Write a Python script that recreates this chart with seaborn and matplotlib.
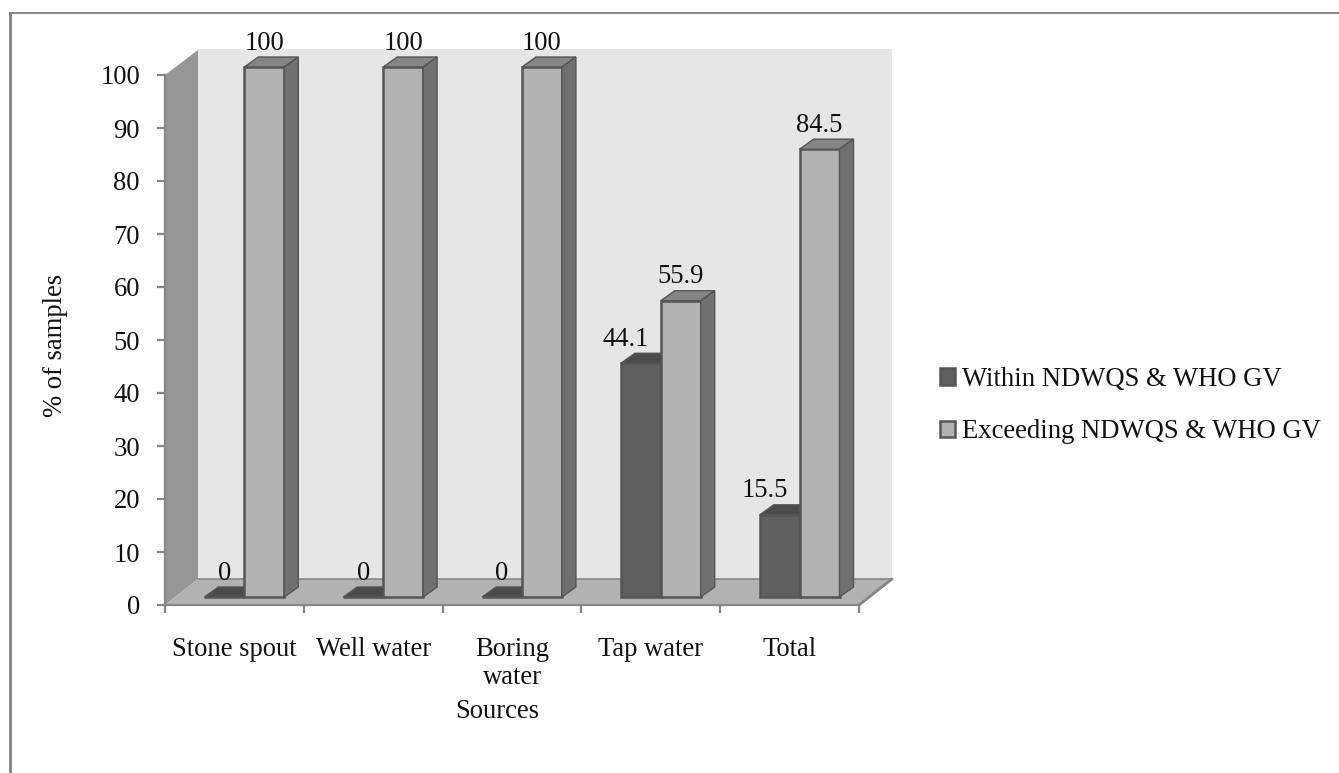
import pandas as pd
import seaborn as sns
import matplotlib.pyplot as plt
from matplotlib.patches import Polygon, Rectangle
from matplotlib.transforms import Affine2D, IdentityTransform

sources = ['Stone spout', 'Well water', 'Boring\nwater', 'Tap water', 'Total']
within = [0, 0, 0, 44.1, 15.5]
exceeding = [100, 100, 100, 55.9, 84.5]
series_names = ['Within NDWQS & WHO GV', 'Exceeding NDWQS & WHO GV']
yticks = list(range(0, 101, 10))

W, H = 1339, 773
FONT = ['Liberation Serif', 'DejaVu Serif']
FS = 19.2
GREY = '#868686'

sns.set_theme(style='white')
plt.rcParams['font.family'] = FONT
plt.rcParams['text.color'] = '#111111'

df = pd.DataFrame({
    'source': sources * 2,
    'series': [series_names[0]] * 5 + [series_names[1]] * 5,
    'value': within + exceeding,
})

fig = plt.figure(figsize=(W / 100, H / 100), dpi=100)
ax = fig.add_axes([165 / W, 168 / H, 694 / W, 530 / H])
ax.set_facecolor('none')
sns.barplot(data=df, x='source', y='value', hue='series', ax=ax,
            palette=['#5f5f5f', '#b2b2b2'], width=0.575, gap=0,
            edgecolor='#555555', linewidth=1.8, saturation=1)
ax.set_xlim(-0.5, 4.5)
ax.set_ylim(0, 100)
ax.set_yticks(yticks)
sns.despine(ax=ax)

# 3d room behind the bars, in pixels from the axes corners
x0, y0 = ax.transAxes.transform((0, 0))
x1, y1 = ax.transAxes.transform((1, 1))
DX, DY = 33, 26
px = IdentityTransform()
ax.add_patch(Rectangle((x0 + DX, y0 + DY), x1 - x0, y1 - y0, transform=px,
                       fc='#e6e6e6', ec='none', zorder=0.5, clip_on=False))
ax.add_patch(Polygon([(x0, y0), (x0 + DX, y0 + DY), (x0 + DX, y1 + DY - 1), (x0, y1)], transform=px,
                     fc='#969696', ec='none', zorder=0.6, clip_on=False))
ax.add_patch(Polygon([(x0, y0), (x1, y0), (x1 + DX, y0 + DY), (x0 + DX, y0 + DY)], transform=px,
                     fc='#b2b2b2', ec='none', zorder=0.7, clip_on=False))
ax.plot([x1, x1 + DX], [y0, y0 + DY], transform=px, color=GREY, lw=2, clip_on=False, zorder=0.8)
ax.plot([x0 + DX, x1 + DX], [y0 + DY, y0 + DY], transform=px, color=GREY, lw=1.2, clip_on=False, zorder=0.8)

# bars stand a little inside the floor, with a box depth
SHIFT_X, SHIFT_Y = 10, 8
BOX_X, BOX_Y = 14, 10
shift = ax.transData + Affine2D().translate(SHIFT_X, SHIFT_Y)
faces = [('#4b4b4b', '#4b4b4b'), ('#858585', '#707070')]
for k, cont in enumerate(ax.containers):
    for p in cont:
        a, b = p.get_x(), p.get_x() + p.get_width()
        val = p.get_height()
        (l, bot), (r, top) = shift.transform([(a, 0), (b, val)])
        p.set_transform(shift)
        p.set_clip_on(False)
        p.set_zorder(3 + k)
        top_col, side_col = faces[k]
        ax.add_patch(Polygon([(l, top), (r, top), (r + BOX_X, top + BOX_Y), (l + BOX_X, top + BOX_Y)],
                             transform=px, fc=top_col, ec='#555555', lw=1, zorder=3 + k, clip_on=False))
        ax.add_patch(Polygon([(r, bot), (r + BOX_X, bot + BOX_Y), (r + BOX_X, top + BOX_Y), (r, top)],
                             transform=px, fc=side_col, ec='#555555', lw=1, zorder=3 + k, clip_on=False))
        # dark labels move left, clear of the taller bar next to them
        nudge = -15 if k == 0 and val > 0 else 0
        ax.text((l + r) / 2 + nudge, top + 17.5, f'{val:g}', transform=px, ha='center', va='baseline',
                fontsize=FS, zorder=6, clip_on=False)

for s in ['left', 'bottom']:
    ax.spines[s].set_color(GREY)
    ax.spines[s].set_linewidth(1.6)
ax.tick_params(axis='both', which='major', length=6, width=1.6, color=GREY, labelsize=FS, pad=12,
               left=True, bottom=True, labelcolor='#111111')
ax.set_xticks([i - 0.5 for i in range(6)], minor=True)
ax.tick_params(axis='x', which='minor', length=6, width=1.6, color=GREY, bottom=True)
ax.tick_params(axis='x', which='major', length=0, pad=23)
for lab in ax.get_xticklabels():
    lab.set_linespacing(1.17)
ax.set_xlabel('')
ax.set_ylabel('')
fig.text(55 / W, 1 - 345 / H, '% of samples', rotation=90, ha='center', va='center', fontsize=FS)
fig.text(497 / W, 1 - 711 / H, 'Sources', ha='center', va='center', fontsize=FS)

handles, labels = ax.get_legend_handles_labels()
ax.legend(handles, labels, loc='center left', bbox_to_anchor=(940 / W, 1 - 405.5 / H),
          bbox_transform=fig.transFigure, frameon=False, fontsize=FS, borderpad=0, borderaxespad=0,
          handlelength=0.56, handleheight=0.56, handletextpad=0.27, labelspacing=1.02)

# picture frame, top and left only
fig.add_artist(Rectangle((9 / W, 0), 3 / W, 1 - 12 / H, transform=fig.transFigure, fc='#888888', ec='none'))
fig.add_artist(Rectangle((9 / W, 1 - 14 / H), 1 - 9 / W, 2 / H, transform=fig.transFigure, fc='#888888', ec='none'))

fig.savefig('out.png', dpi=100)
